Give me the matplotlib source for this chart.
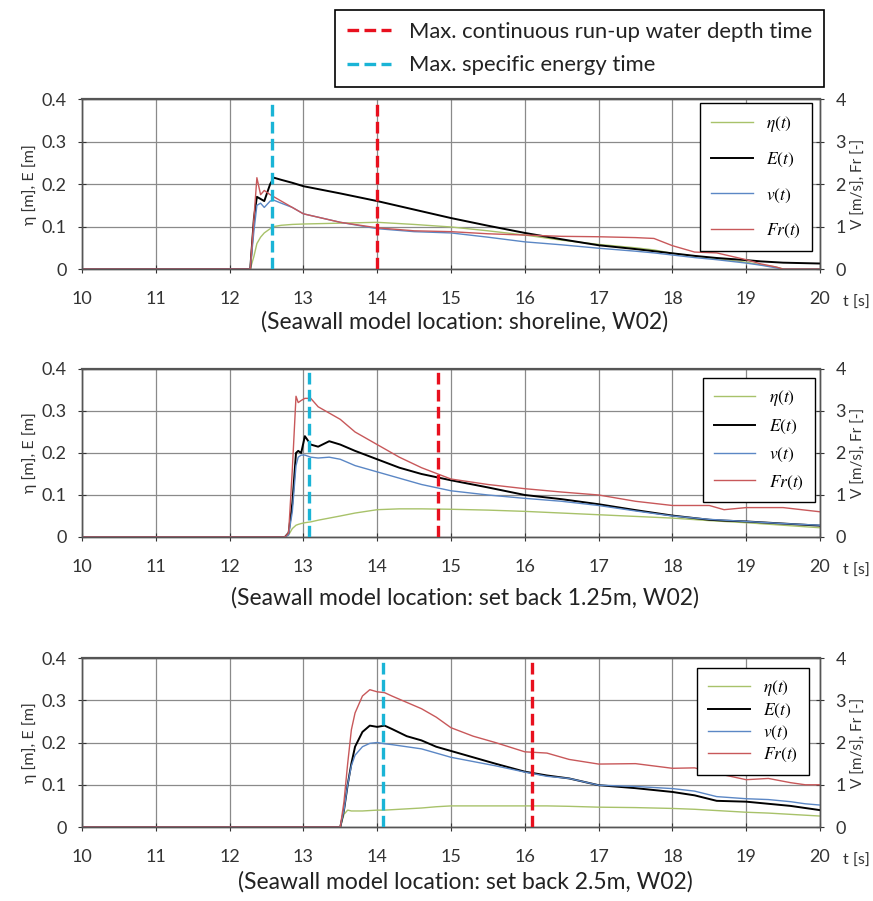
import numpy as np
import matplotlib
matplotlib.use('Agg')
import matplotlib.pyplot as plt
from matplotlib.lines import Line2D

plt.rcParams['font.family'] = ['Lato', 'DejaVu Sans']
plt.rcParams['mathtext.fontset'] = 'stix'

# ---- panel 1 : shoreline ----
t1 = [10, 12.28, 12.33, 12.37, 12.42, 12.47, 12.55, 12.6, 12.7, 12.85, 13.0, 13.5, 14.0, 14.5, 15.0,
      15.5, 16.0, 16.5, 17.0, 17.5, 17.75, 18.0, 18.3, 18.6, 19.0, 19.2, 19.4, 19.5, 20.0]
eta1 = [0, 0, 0.03, 0.06, 0.075, 0.085, 0.095, 0.1, 0.103, 0.105, 0.106, 0.108, 0.11, 0.105, 0.099,
        0.09, 0.08, 0.068, 0.058, 0.05, 0.045, 0.037, 0.03, 0.024, 0.016, 0.01, 0.005, 0, 0]
E1 = [0, 0, 0.12, 0.17, 0.165, 0.16, 0.2, 0.215, 0.21, 0.203, 0.195, 0.178, 0.16, 0.14, 0.12,
      0.102, 0.085, 0.07, 0.056, 0.047, 0.042, 0.037, 0.031, 0.026, 0.021, 0.018, 0.016, 0.015, 0.013]
v1 = [0, 0, 0.9, 1.5, 1.55, 1.45, 1.6, 1.62, 1.55, 1.45, 1.3, 1.1, 0.95, 0.88, 0.85,
      0.75, 0.64, 0.57, 0.49, 0.42, 0.38, 0.33, 0.27, 0.22, 0.14, 0.09, 0.03, 0, 0]
Fr1 = [0, 0, 1.2, 2.15, 1.75, 1.85, 1.75, 1.7, 1.6, 1.45, 1.3, 1.1, 0.97, 0.9, 0.88,
       0.83, 0.8, 0.77, 0.76, 0.74, 0.72, 0.55, 0.4, 0.38, 0.22, 0.12, 0.05, 0, 0]

# ---- panel 2 : set back 1.25 m ----
t2 = [10, 12.75, 12.8, 12.85, 12.9, 12.93, 12.97, 13.02, 13.1, 13.2, 13.35, 13.5, 13.7, 14.0,
      14.3, 14.6, 15.0, 15.5, 16.0, 16.5, 17.0, 17.5, 18.0, 18.5, 18.7, 19.0, 19.5, 20.0]
eta2 = [0, 0, 0.005, 0.02, 0.028, 0.03, 0.032, 0.034, 0.036, 0.04, 0.045, 0.05, 0.057, 0.065,
        0.067, 0.067, 0.066, 0.064, 0.061, 0.057, 0.053, 0.049, 0.045, 0.039, 0.037, 0.034, 0.028, 0.022]
E2 = [0, 0, 0.01, 0.08, 0.2, 0.205, 0.2, 0.24, 0.22, 0.215, 0.228, 0.22, 0.205, 0.185,
      0.165, 0.15, 0.135, 0.118, 0.1, 0.09, 0.078, 0.064, 0.051, 0.041, 0.039, 0.037, 0.032, 0.027]
v2 = [0, 0, 0.05, 0.6, 1.7, 1.9, 1.95, 1.95, 1.9, 1.88, 1.9, 1.85, 1.7, 1.55,
      1.4, 1.25, 1.1, 1.0, 0.92, 0.85, 0.75, 0.62, 0.5, 0.42, 0.4, 0.37, 0.32, 0.28]
Fr2 = [0, 0, 0.1, 1.6, 3.35, 3.2, 3.25, 3.3, 3.3, 3.1, 2.95, 2.8, 2.5, 2.2,
       1.9, 1.65, 1.38, 1.25, 1.15, 1.07, 1.0, 0.85, 0.75, 0.75, 0.65, 0.7, 0.7, 0.6]

# ---- panel 3 : set back 2.5 m ----
t3 = [10, 13.5, 13.55, 13.6, 13.65, 13.7, 13.8, 13.9, 14.0, 14.1, 14.2, 14.4, 14.6, 14.8, 15.0,
      15.3, 15.6, 16.0, 16.3, 16.6, 17.0, 17.5, 18.0, 18.3, 18.6, 19.0, 19.3, 19.6, 19.8, 20.0]
eta3 = [0, 0, 0.03, 0.04, 0.038, 0.038, 0.038, 0.039, 0.04, 0.04, 0.041, 0.043, 0.045, 0.048, 0.05,
        0.05, 0.05, 0.05, 0.05, 0.049, 0.047, 0.046, 0.044, 0.042, 0.039, 0.035, 0.033, 0.03, 0.028, 0.026]
E3 = [0, 0, 0.04, 0.1, 0.15, 0.19, 0.225, 0.24, 0.237, 0.24, 0.232, 0.215, 0.205, 0.19, 0.18,
      0.165, 0.15, 0.131, 0.122, 0.115, 0.099, 0.092, 0.083, 0.075, 0.062, 0.06, 0.055, 0.05, 0.045, 0.04]
v3 = [0, 0, 0.4, 1.0, 1.45, 1.7, 1.9, 1.98, 2.0, 1.97, 1.95, 1.9, 1.85, 1.75, 1.65,
      1.55, 1.45, 1.3, 1.2, 1.15, 0.99, 0.96, 0.91, 0.85, 0.72, 0.67, 0.65, 0.6, 0.55, 0.52]
Fr3 = [0, 0, 0.6, 1.5, 2.3, 2.7, 3.1, 3.25, 3.2, 3.18, 3.1, 2.95, 2.8, 2.6, 2.35,
       2.15, 2.0, 1.78, 1.75, 1.6, 1.49, 1.5, 1.39, 1.4, 1.27, 1.12, 1.15, 1.05, 1.0, 1.0]

t_energy = [12.58, 13.08, 14.08]   # max specific energy time
t_depth = [14.0, 14.82, 16.1]      # max continuous run-up water depth time
captions = ['(Seawall model location: shoreline, W02)',
            '(Seawall model location: set back 1.25m, W02)',
            '(Seawall model location: set back 2.5m, W02)']

panels = [(t1, eta1, E1, v1, Fr1), (t2, eta2, E2, v2, Fr2), (t3, eta3, E3, v3, Fr3)]

c_eta, c_E, c_v, c_Fr = '#a8c26a', 'black', '#5b87c5', '#c8585a'
c_red, c_cyan = '#e8101e', '#1ab4d6'

fig = plt.figure(figsize=(8.73, 9.01), dpi=100)
boxes = [(0.7014, 0.1886), (0.404, 0.1865), (0.0821, 0.1876)]
# legend anchor (axes coords) and label spacing per panel
leg_pos = [(0.989, 0.976, 1.0), (0.993, 0.946, 0.55), (0.985, 0.941, 0.22)]
cap_y = [0.643, 0.337, 0.021]

for i, (t, eta, E, v, Fr) in enumerate(panels):
    ax = fig.add_axes([0.0939, boxes[i][0], 0.8454, boxes[i][1]])
    ax2 = ax.twinx()
    l1, = ax.plot(t, eta, color=c_eta, lw=1.0, label=r'$\eta(t)$')
    l2, = ax.plot(t, E, color=c_E, lw=1.4, label=r'$E(t)$', zorder=4)
    l3, = ax2.plot(t, v, color=c_v, lw=1.0, label=r'$v(t)$')
    l4, = ax2.plot(t, Fr, color=c_Fr, lw=1.0, label=r'$Fr(t)$')
    ax2.axvline(t_energy[i], color=c_cyan, lw=2.4, dashes=(3.5, 1.6), zorder=5)
    ax2.axvline(t_depth[i], color=c_red, lw=2.4, dashes=(3.5, 1.6), zorder=5)

    ax.set_xlim(10, 20)
    ax.set_ylim(0, 0.4)
    ax2.set_ylim(0, 4)
    ax.set_xticks(range(10, 21))
    ax.set_yticks([0, 0.1, 0.2, 0.3, 0.4])
    ax.set_yticklabels(['0', '0.1', '0.2', '0.3', '0.4'])
    ax2.set_yticks([0, 1, 2, 3, 4])
    ax.grid(True, color='#8a8a8a', lw=0.9)
    ax.set_axisbelow(True)
    for a in (ax, ax2):
        for s in a.spines.values():
            s.set_color('#555555')
            s.set_linewidth(1.0)
        a.tick_params(labelsize=13, colors='#333333', length=6, width=0.8,
                      direction='inout', pad=8)
    ax.tick_params(axis='x', pad=13)
    ax.spines['top'].set_linewidth(1.6)
    ax.set_ylabel('η [m], E [m]', fontsize=11.5, color='#333333', labelpad=3)
    ax2.set_ylabel('V [m/s], Fr [-]', fontsize=11, color='#333333', labelpad=4)
    ax.text(1.05, -0.2, 't [s]', transform=ax.transAxes, fontsize=11.5,
            color='#333333', ha='center', va='center')

    lx, ly, lsp = leg_pos[i]
    leg = ax2.legend([l1, l2, l3, l4], [l.get_label() for l in (l1, l2, l3, l4)],
                     loc='upper right', bbox_to_anchor=(lx, ly), fontsize=12.5,
                     labelspacing=lsp, handlelength=2.4, fancybox=False,
                     framealpha=1, edgecolor='black', borderpad=0.6,
                     borderaxespad=0)
    leg.get_frame().set_linewidth(1.0)
    leg.set_zorder(10)

    fig.text(0.5326, cap_y[i], captions[i], fontsize=16.5, color='#222222',
             ha='center', va='center')

# top legend for the dashed time lines
h_red = Line2D([], [], color=c_red, lw=2.4, dashes=(3.5, 1.6))
h_cyan = Line2D([], [], color=c_cyan, lw=2.4, dashes=(3.5, 1.6))
top = fig.legend([h_red, h_cyan],
                 ['Max. continuous run-up water depth time', 'Max. specific energy time'],
                 loc='upper left', bbox_to_anchor=(335 / 873, 1 - 10 / 901), fontsize=15.8,
                 fancybox=False, edgecolor='black', framealpha=1,
                 handlelength=2.0, borderpad=0.55, labelspacing=0.6, borderaxespad=0)
top.get_frame().set_linewidth(1.2)
for txt in top.get_texts():
    txt.set_color('#222222')

plt.savefig('out.png', dpi=100)
